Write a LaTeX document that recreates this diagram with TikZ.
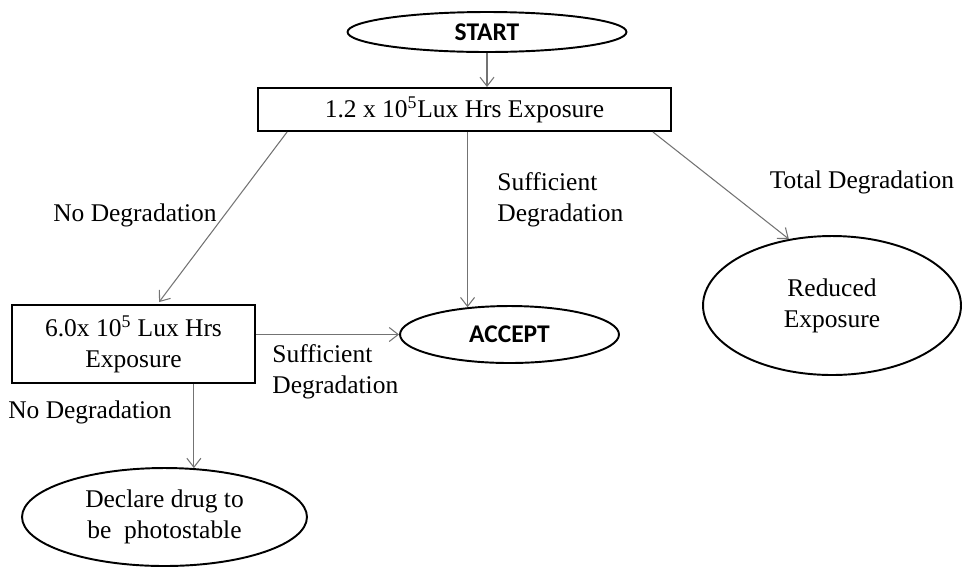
\documentclass[tikz,border=0pt]{standalone}
\usepackage{fontspec}
\setmainfont{Liberation Serif}
\newfontfamily\capsfont{Carlito}
\usepackage{tikz}
\usetikzlibrary{positioning,arrows.meta,shapes.geometric,calc}
\tikzset{
  flowarrow/.style={-{Straight Barb[length=1.8mm,width=2.8mm]}, draw=black!55, line width=0.6pt},
  termnode/.style={draw, ellipse, line width=1.1pt, inner sep=0pt, align=center},
  stepbox/.style={draw, rectangle, line width=1.1pt, inner sep=0pt, align=center},
  relabel/.style={inner sep=0pt, align=left}
}

\begin{document}
\begin{tikzpicture}[x=0.02cm, y=-0.02cm, every node/.style={font=\fontsize{14.5}{17.5}\selectfont}]
  \useasboundingbox (0,0) rectangle (962,566);
  \node[termnode, minimum width=5.58cm, minimum height=0.8cm] (start) at (487,32) {\capsfont\bfseries START};
  \node[stepbox, minimum width=8.26cm, minimum height=0.86cm] (expoA) at (464.5,109.5) {1.2 x 10\textsuperscript{5}Lux Hrs Exposure};
  \node[stepbox, minimum width=4.86cm, minimum height=1.56cm] (expoB) at (133.5,344) {6.0x 10\textsuperscript{5} Lux Hrs\\ Exposure};
  \node[termnode, minimum width=4.38cm, minimum height=1.14cm] (accept) at (509.5,334.5) {\capsfont\bfseries ACCEPT};
  \node[termnode, minimum width=5.16cm, minimum height=2.78cm] (reduced) at (832,305.5) {Reduced\\ Exposure};
  \node[termnode, minimum width=5.7cm, minimum height=1.96cm] (declare) at (164.5,517) {Declare drug to\\ be\ \ photostable};
  \node[relabel] (noA) at (135,215) {No Degradation};
  \node[relabel, anchor=west] (sufA) at (497,200) {Sufficient\\ Degradation};
  \node[relabel] (total) at (862,182) {Total Degradation};
  \node[relabel, anchor=west] (sufB) at (272,372) {Sufficient\\ Degradation};
  \node[relabel] (noB) at (90,412) {No Degradation};
  \draw[flowarrow] (start) -- (start |- expoA.north);
  \draw[flowarrow] ($(expoA.south west)+(30,0)$) -- ($(expoB.north west)+(148,-2)$);
  \draw[flowarrow] (expoA.south -| accept.147) -- (accept.147);
  \draw[flowarrow] ($(expoA.south east)+(-19,0)$) -- (reduced.123);
  \draw[flowarrow] (expoB.east |- accept.west) -- (accept.west);
  \draw[flowarrow] (expoB.south -| declare.59) -- (declare.59);
\end{tikzpicture}
\end{document}
